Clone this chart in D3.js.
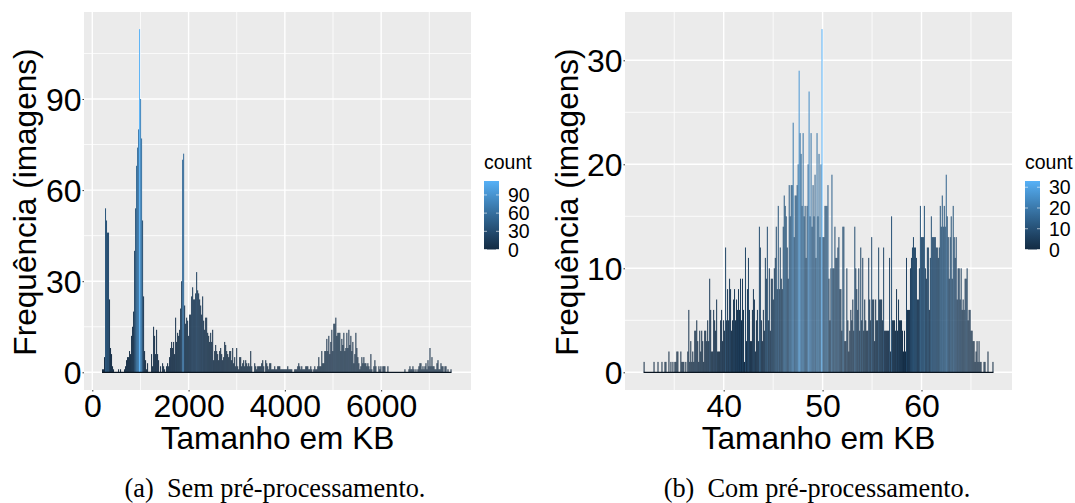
<!DOCTYPE html>
<html>
<head>
<meta charset="utf-8">
<script src="https://cdn.jsdelivr.net/npm/d3@7"></script>
<style>
  html, body { margin: 0; padding: 0; background: #fff; }
  svg { display: block; }
  text { font-family: "Liberation Sans", Arial, sans-serif; fill: #000; }
</style>
</head>
<body>
<svg id="chart" width="1075" height="503"></svg>
<script>
// counts, one value per histogram bin
var countsA = [
  1,1,5,54,50,46,46,24,8,6,2,1,0,0,0,0,1,0,1,0,0,0,1,2,4,5,5,7,6,12,15,20,40,54,68,74,80,113,90,77,
  50,25,7,4,1,3,0,0,0,6,2,15,12,6,14,6,4,0,2,0,3,2,1,0,2,3,2,5,8,10,8,10,6,18,10,13,12,14,21,30,
  70,72,22,16,18,17,12,19,19,25,28,24,24,26,33,27,26,24,22,19,25,17,14,18,18,13,12,10,13,10,14,4,7,9,7,6,4,7,8,6,
  4,5,10,9,7,6,5,7,7,4,8,3,5,2,8,2,1,5,5,2,3,4,2,4,3,2,3,2,7,2,0,0,3,2,1,2,2,2,2,3,
  4,2,0,4,3,2,1,3,3,1,1,1,2,1,1,2,2,2,
  1,1,1,1,1,1,1,2,1,1,1,1,0,0,1,1,1,2,3,2,1,2,1,1,1,2,2,2,1,1,2,1,0,1,2,1,1,2,5,2,
  2,7,3,3,7,7,11,7,12,6,10,14,7,16,16,18,12,13,13,13,7,11,9,13,7,8,13,8,14,9,12,7,10,3,6,13,8,5,3,1,
  2,5,3,5,3,3,2,3,2,1,6,1,0,2,4,2,0,0,2,1,2,0,2,2,2,0,0,2,0,0,0,0,0,0,0,0,0,0,0,0,
  0,0,0,0,1,0,0,0,1,2,1,1,2,1,0,1,0,1,2,3,3,1,2,1,2,3,1,4,2,8,2,5,2,2,1,1,3,4,1,1,
  3,2,2,0,2,2,0,1,0,0,1
];
var countsB = [
  1,0,0,0,0,0,0,0,0,0,1,0,0,0,1,0,0,0,1,0,0,1,1,0,0,2,0,1,0,1,0,1,1,2,2,0,0,2,1,1,
  1,0,1,0,2,6,1,3,1,2,1,4,4,5,3,1,4,2,4,3,1,4,4,3,5,3,9,6,2,2,6,5,4,7,2,2,2,5,6,3,
  5,4,12,5,8,5,9,8,4,5,7,8,5,7,6,8,6,9,5,9,6,1,12,3,8,11,6,3,3,6,8,7,2,5,6,3,14,12,5,3,
  6,4,11,9,14,5,10,4,9,9,7,10,11,14,8,16,8,12,9,8,14,17,16,15,12,9,18,15,18,18,24,13,17,17,18,20,29,23,21,16,
  23,15,16,11,16,20,27,15,23,14,18,15,19,11,23,15,21,13,20,33,13,13,
  16,16,16,18,9,5,10,19,10,10,14,11,11,12,13,8,8,4,14,14,3,3,10,5,2,4,6,5,7,4,14,10,8,6,10,4,12,5,11,4,
  7,5,4,4,11,7,5,13,7,7,3,7,5,5,12,7,7,7,5,12,4,4,4,4,4,11,2,15,5,5,5,4,8,4,7,5,5,5,4,2,
  4,2,11,6,6,6,10,11,12,13,12,12,11,7,7,10,16,13,13,13,16,10,9,12,12,6,11,15,13,13,13,13,12,12,11,12,16,14,17,14,
  16,14,19,15,13,9,13,15,9,16,13,11,13,7,10,10,7,10,6,7,6,9,9,10,5,6,6,4,4,3,3,1,2,3,1,3,1,1,0,0,
  1,1,0,0,2,0,0,0,0,1
];
var xTicksA = [0, 2000, 4000, 6000];
var xMinorA = [1000, 3000, 5000, 7000];
var yTicksA = [0, 30, 60, 90];
var yMinorA = [15, 45, 75, 105];
var legendTicksA = [0, 30, 60, 90];
var xTicksB = [40, 50, 60];
var xMinorB = [35, 45, 55, 65];
var yTicksB = [0, 10, 20, 30];
var yMinorB = [5, 15, 25];
var legendTicksB = [0, 10, 20, 30];

var xTitle = "Tamanho em KB";
var yTitle = "Frequência (imagens)";
var legendTitle = "count";
var captionA = "(a)  Sem pré-processamento.";
var captionB = "(b)  Com pré-processamento.";

var svg = d3.select("#chart");

function drawPanel(opts) {
  var g = svg.append("g");
  var x = d3.scaleLinear().domain(opts.xDomain).range(opts.xRange);
  var y = d3.scaleLinear().domain(opts.yDomain).range(opts.yRange);
  var maxCount = d3.max(opts.counts);
  var fill = d3.scaleLinear().domain([0, maxCount])
    .range(["#132B43", "#56B1F7"]).interpolate(d3.interpolateLab);
  // the thin bars come out darker than the colour bar in the original
  var barFill = d3.scalePow().exponent(1.5).domain([0, maxCount])
    .range(["#132B43", "#56B1F7"]).interpolate(d3.interpolateLab);

  g.append("rect")
    .attr("x", opts.left).attr("y", opts.top)
    .attr("width", opts.right - opts.left).attr("height", opts.bottom - opts.top)
    .attr("fill", "#ebebeb");

  // grid, minor lines first
  function grid(vals, vertical, w) {
    g.selectAll(null).data(vals).enter().append("line")
      .attr("x1", function(d) { return vertical ? x(d) : opts.left; })
      .attr("x2", function(d) { return vertical ? x(d) : opts.right; })
      .attr("y1", function(d) { return vertical ? opts.top : y(d); })
      .attr("y2", function(d) { return vertical ? opts.bottom : y(d); })
      .attr("stroke", "#fff")
      .attr("stroke-width", w);
  }
  grid(opts.xMinor, true, 0.8);
  grid(opts.yMinor, false, 0.8);
  grid(opts.xTicks, true, 1.4);
  grid(opts.yTicks, false, 1.4);

  g.selectAll(null).data(opts.counts).enter().append("rect")
    .attr("x", function(d, i) { return x(opts.binStart + i * opts.binWidth); })
    .attr("width", x(opts.binWidth) - x(0))
    .attr("y", function(d) { return y(d); })
    .attr("height", function(d) { return y(0) - y(d); })
    .attr("fill", function(d) { return barFill(d); });

  // zero count bins end up as a dark line along the base
  g.append("line")
    .attr("x1", x(opts.binStart))
    .attr("x2", x(opts.binStart + opts.counts.length * opts.binWidth))
    .attr("y1", y(0)).attr("y2", y(0))
    .attr("stroke", "#0a1622")
    .attr("stroke-width", 1.2);

  var xAxis = g.append("g")
    .attr("transform", "translate(0," + opts.bottom + ")")
    .call(d3.axisBottom(x).tickValues(opts.xTicks).tickFormat(d3.format("d")).tickSize(1.5).tickPadding(1));
  var yAxis = g.append("g")
    .attr("transform", "translate(" + opts.left + ",0)")
    .call(d3.axisLeft(y).tickValues(opts.yTicks).tickFormat(d3.format("d")).tickSize(1.5).tickPadding(1));
  [xAxis, yAxis].forEach(function(a) {
    a.select(".domain").remove();
    a.selectAll(".tick line").attr("stroke", "#333");
    a.selectAll(".tick text").style("font-size", "32px")
      .style("font-family", '"Liberation Sans", Arial, sans-serif').attr("fill", "#000");
  });
  xAxis.selectAll(".tick text").attr("y", 27).attr("dy", 0);
  yAxis.selectAll(".tick text").attr("dy", 11.5);

  g.append("text")
    .attr("x", (opts.left + opts.right) / 2).attr("y", 449)
    .attr("text-anchor", "middle").style("font-size", "31.6px")
    .text(xTitle);
  g.append("text")
    .attr("transform", "translate(" + opts.yTitleX + ",202) rotate(-90)")
    .attr("text-anchor", "middle").style("font-size", "31.6px")
    .text(yTitle);

  // colour bar
  var legend = g.append("g");
  var ly = d3.scaleLinear().domain([0, maxCount]).range([249.5, 181]);
  var gradId = "grad" + opts.name;
  var grad = svg.append("defs").append("linearGradient").attr("id", gradId)
    .attr("x1", 0).attr("x2", 0).attr("y1", 1).attr("y2", 0);
  d3.range(0, 1.001, 0.1).forEach(function(t) {
    grad.append("stop").attr("offset", t).attr("stop-color", fill(t * maxCount));
  });
  legend.append("text")
    .attr("x", opts.legendX).attr("y", 169)
    .style("font-size", "19.5px").text(legendTitle);
  legend.append("rect")
    .attr("x", opts.legendX).attr("y", ly(maxCount))
    .attr("width", 15).attr("height", ly(0) - ly(maxCount))
    .attr("fill", "url(#" + gradId + ")");
  [[0, 3], [12, 15]].forEach(function(seg) {
    legend.selectAll(null).data(opts.legendTicks).enter().append("line")
      .attr("x1", opts.legendX + seg[0]).attr("x2", opts.legendX + seg[1])
      .attr("y1", function(d) { return ly(d); })
      .attr("y2", function(d) { return ly(d); })
      .attr("stroke", "#fff").attr("stroke-width", 0.6);
  });
  legend.selectAll(null).data(opts.legendTicks).enter().append("text")
    .attr("x", opts.legendX + 24)
    .attr("y", function(d) { return ly(d) + 7; })
    .style("font-size", "19.5px")
    .text(function(d) { return d; });

  svg.append("text")
    .attr("x", opts.captionX).attr("y", 497)
    .attr("text-anchor", "middle")
    .style("font-family", '"Liberation Serif", "Times New Roman", serif')
    .style("font-size", "26.3px")
    .style("white-space", "pre")
    .text(opts.caption);
}

drawPanel({
  name: "A", counts: countsA, binStart: 202, binWidth: 20.8,
  xDomain: [0, 7000], xRange: [92.3, 429.3],
  yDomain: [0, 90], yRange: [372.3, 99],
  left: 84, right: 471, top: 12, bottom: 390,
  xTicks: xTicksA, xMinor: xMinorA, yTicks: yTicksA, yMinor: yMinorA,
  legendTicks: legendTicksA, legendX: 484,
  yTitleX: 36, captionX: 275, caption: captionA
});

drawPanel({
  name: "B", counts: countsB, binStart: 31.9, binWidth: 0.1005,
  xDomain: [40, 60], xRange: [723.7, 921.5],
  yDomain: [0, 30], yRange: [372.3, 60.3],
  left: 625, right: 1012, top: 12, bottom: 390,
  xTicks: xTicksB, xMinor: xMinorB, yTicks: yTicksB, yMinor: yMinorB,
  legendTicks: legendTicksB, legendX: 1025,
  yTitleX: 578, captionX: 817, caption: captionB
});
</script>
</body>
</html>
